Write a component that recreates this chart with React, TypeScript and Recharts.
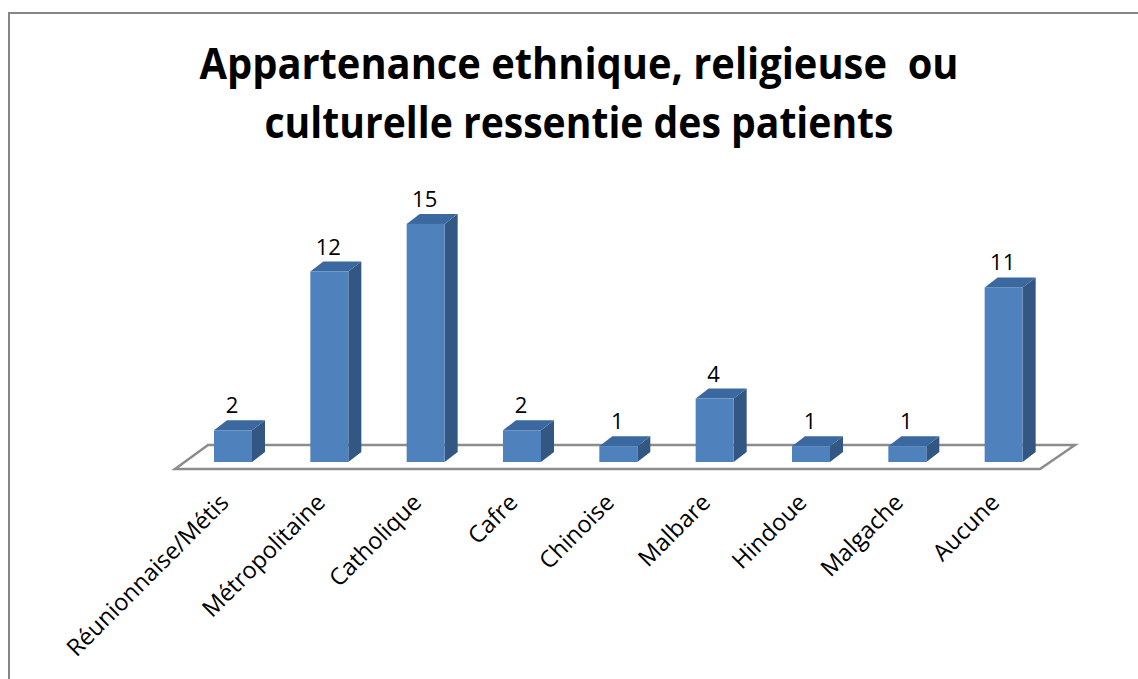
import { BarChart, Bar, XAxis, YAxis, LabelList } from 'recharts';

const categories = [
  'Réunionnaise/Métis',
  'Métropolitaine',
  'Catholique',
  'Cafre',
  'Chinoise',
  'Malbare',
  'Hindoue',
  'Malgache',
  'Aucune',
];
const counts = [2, 12, 15, 2, 1, 4, 1, 1, 11];
const titleLines = ['Appartenance ethnique, religieuse  ou', 'culturelle ressentie des patients'];

const data = categories.map((name, i) => ({ name, value: counts[i] }));

const W = 1138;
const H = 679;
const PLOT_LEFT = 185;
const PLOT_RIGHT = 1052;
const PLOT_TOP = 208;
const PLOT_BOTTOM = 462;
const DX = 13;
const DY = 10;
const FONT = '"Open Sans", "Liberation Sans", sans-serif';

function Box3D(props: any) {
  const { x, y, width: w, height: h } = props;
  if (h == null || w == null) return null;
  return (
    <g>
      <polygon
        points={`${x + w},${y} ${x + w + DX},${y - DY} ${x + w + DX},${y + h - DY} ${x + w},${y + h}`}
        fill="#335783"
      />
      <polygon
        points={`${x},${y} ${x + DX},${y - DY} ${x + w + DX},${y - DY} ${x + w},${y}`}
        fill="#3c68a0"
      />
      <rect x={x} y={y} width={w} height={h} fill="#4f81bd" />
    </g>
  );
}

function ValueLabel(props: any) {
  const { x, y, width, value } = props;
  return (
    <text x={x + width / 2 - 1} y={y - 17} textAnchor="middle" fontSize={22} fontFamily={FONT} fill="#000">
      {value}
    </text>
  );
}

function CategoryTick(props: any) {
  const { x, payload } = props;
  const ax = x - 3;
  const ay = PLOT_BOTTOM + 42;
  return (
    <text
      x={ax}
      y={ay}
      transform={`rotate(-45 ${ax} ${ay})`}
      textAnchor="end"
      fontSize={23.5}
      fontFamily={FONT}
      fill="#000"
    >
      {payload.value}
    </text>
  );
}

export default function App() {
  return (
    <div style={{ position: 'absolute', left: 0, top: 0, width: W, height: H, overflow: 'hidden', background: '#fff' }}>
      <svg width={W} height={H} style={{ position: 'absolute', left: 0, top: 0 }}>
        <rect x={9} y={13} width={W + 100} height={H + 100} fill="none" stroke="#868686" strokeWidth={2} />
        {titleLines.map((t, i) => (
          <text
            key={i}
            x={579}
            y={79 + i * 59}
            textAnchor="middle"
            fontSize={43}
            fontWeight="bold"
            fontFamily={FONT}
            textLength={i === 0 ? 759 : 629}
            lengthAdjust="spacingAndGlyphs"
            style={{ whiteSpace: 'pre' }}
            fill="#000"
          >
            {t}
          </text>
        ))}
        <polygon
          points={`${PLOT_LEFT - 10},${PLOT_BOTTOM + 7} ${PLOT_LEFT + 23},${PLOT_BOTTOM - 17} ${PLOT_RIGHT + 23},${PLOT_BOTTOM - 17} ${PLOT_RIGHT - 12},${PLOT_BOTTOM + 7}`}
          fill="none"
          stroke="#8c8c8c"
          strokeWidth={2.5}
        />
      </svg>
      <div style={{ position: 'absolute', left: 0, top: 0 }}>
        <BarChart
          width={W}
          height={H}
          data={data}
          margin={{ top: PLOT_TOP, right: W - PLOT_RIGHT, left: PLOT_LEFT, bottom: H - PLOT_BOTTOM - 30 }}
          barCategoryGap={0}
        >
          <XAxis dataKey="name" axisLine={false} tickLine={false} interval={0} tick={<CategoryTick />} height={30} />
          <YAxis hide domain={[0, 16]} />
          <Bar dataKey="value" barSize={38} shape={<Box3D />} isAnimationActive={false}>
            <LabelList dataKey="value" content={<ValueLabel />} />
          </Bar>
        </BarChart>
      </div>
    </div>
  );
}
